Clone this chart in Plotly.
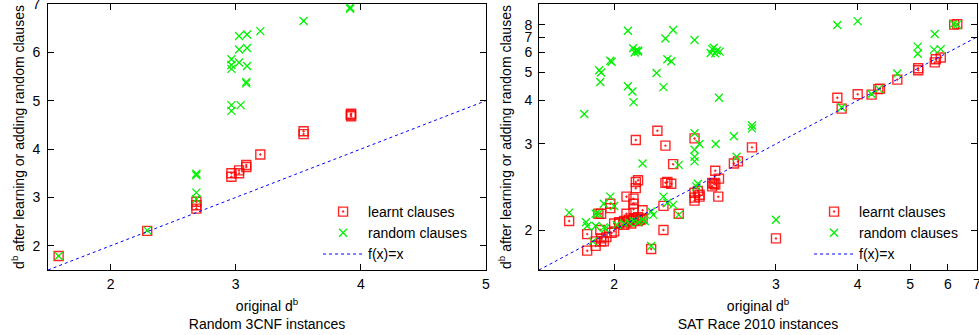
import numpy as np
import plotly.graph_objects as go

# ---------------- data: Random 3CNF instances (left) ----------------
cnf_learnt_x = [1.585, 2.293, 2.686, 2.686, 2.686, 2.966, 2.966, 3.027, 3.027, 3.085, 3.085,
                3.197, 3.543, 3.543, 3.923, 3.923, 3.920]
cnf_learnt_y = [1.79, 2.31, 2.91, 2.84, 2.77, 3.50, 3.43, 3.56, 3.50, 3.67, 3.63,
                3.89, 4.31, 4.37, 4.68, 4.73, 4.71]
cnf_random_x = [1.585, 2.293, 2.686, 2.686, 2.686, 2.686, 2.966, 2.966, 3.040, 2.966, 2.966,
                2.966, 3.027, 3.091, 3.085, 3.085, 3.027, 3.091, 3.027, 3.091, 3.197, 3.543,
                3.915, 3.915]
cnf_random_y = [1.79, 2.32, 3.46, 3.49, 3.10, 2.97, 4.79, 4.91, 4.91, 5.66, 5.74,
                5.86, 5.79, 5.72, 5.36, 5.39, 6.06, 6.09, 6.34, 6.37, 6.44, 6.65,
                6.90, 6.93]

# ---------------- data: SAT Race 2010 instances (right) ----------------
sat_learnt_x = [2.09, 2.19, 2.23, 2.39, 2.27, 2.52, 2.65, 2.68, 2.79, 3.70, 3.76, 4.00, 4.23,
                4.35, 4.38, 4.72, 5.19, 5.19, 5.62, 5.65, 5.79, 6.20, 6.30,
                2.545, 2.50, 2.52, 2.50, 2.51, 2.54, 2.39, 2.39, 2.39, 2.41, 2.42, 2.42,
                2.23, 2.26, 2.24, 2.22, 2.30, 2.22, 2.16, 2.12, 2.10, 2.09, 2.09, 2.05,
                2.08, 2.08, 2.08,
                2.00, 2.02, 2.04, 2.05, 2.06, 2.07, 2.08, 2.09, 2.10, 2.11, 2.12, 2.04,
                2.02, 2.07, 2.10,
                2.05, 1.985, 1.985, 1.94, 1.95, 1.947, 1.99, 2.00, 1.97, 1.95, 1.93,
                1.95, 1.96, 1.93, 1.90, 1.90, 1.84, 3.00]
sat_learnt_y = [3.07, 3.25, 2.97, 3.10, 2.68, 2.59, 2.69, 2.72, 2.94, 4.08, 3.77, 4.19, 4.18,
                4.36, 4.38, 4.71, 5.19, 5.10, 5.47, 5.63, 5.72, 8.00, 8.05,
                2.49, 2.44, 2.42, 2.40, 2.43, 2.29, 2.33, 2.28, 2.25, 2.35, 2.31, 2.29,
                2.44, 2.43, 2.45, 2.20, 2.13, 2.00, 1.87, 2.16, 2.47, 2.45, 2.38, 2.29,
                2.27, 2.22, 2.17,
                2.05, 2.06, 2.07, 2.06, 2.08, 2.07, 2.09, 2.08, 2.10, 2.08, 2.09, 2.04,
                2.05, 2.05, 2.07,
                2.13, 2.22, 2.18, 2.13, 2.13, 2.00, 1.98, 1.99, 1.95, 1.94, 1.92,
                1.92, 1.92, 1.89, 1.97, 1.86, 2.07, 1.94]
sat_random_x = [1.89, 2.056, 2.27, 2.23, 2.39, 2.078, 2.09, 2.10, 2.085, 2.10, 1.985, 1.99,
                1.943, 1.95, 1.947, 2.056, 2.075, 2.08, 2.186, 2.22, 2.24, 2.26, 2.50, 2.53,
                2.52, 2.49, 2.55, 2.51, 2.545, 2.39, 2.42, 2.523, 2.65, 2.79, 2.79, 3.70,
                4.00, 5.18, 5.18, 5.62, 5.60, 5.79, 4.72, 4.23, 4.36, 3.76, 6.18, 6.29,
                2.39, 2.39, 2.39, 2.12, 2.30, 2.67, 2.40, 2.41, 2.22, 2.24, 2.27, 2.16,
                2.17, 2.30, 1.985, 1.96, 2.00, 1.93, 1.94, 1.96, 1.965, 1.84, 1.896, 1.90,
                1.93, 1.92, 2.01, 2.04, 2.06, 2.08, 2.10, 2.12, 2.13, 2.16, 3.00]
sat_random_y = [3.63, 7.48, 7.55, 6.90, 6.79, 6.25, 6.10, 6.05, 6.00, 6.12, 5.55, 5.50,
                5.10, 5.00, 4.62, 4.46, 4.28, 3.95, 4.98, 4.43, 5.63, 5.53, 6.20, 6.10,
                5.95, 5.97, 6.05, 6.28, 4.08, 3.20, 3.00, 3.00, 3.14, 3.30, 3.36, 7.97,
                8.32, 6.35, 5.93, 7.23, 6.17, 6.20, 4.96, 4.20, 4.37, 3.80, 8.05, 8.00,
                2.90, 2.79, 2.72, 2.69, 2.67, 2.79, 2.40, 2.43, 2.29, 2.23, 2.21, 2.15,
                2.12, 2.12, 2.29, 2.22, 2.20, 2.13, 2.13, 2.02, 2.01, 2.14, 2.06, 2.03,
                2.03, 1.92, 2.04, 2.05, 2.06, 2.07, 2.06, 2.08, 2.07, 1.89, 2.08]

cnf_x_ticks = [2, 3, 4, 5]
cnf_y_ticks = [2, 3, 4, 5, 6, 7]
sat_x_ticks = [2, 3, 4, 5, 6, 7]
sat_y_ticks = [2, 3, 4, 5, 6, 7, 8]
cnf_range_x = [1.5, 5.0]
cnf_range_y = [1.5, 7.0]
sat_range_x = [1.75, 7.0]
sat_range_y = [1.75, 10.2]

series_names = ["learnt clauses", "random clauses", "f(x)=x"]
titles_x = ["original d<sup>b</sup><br>Random 3CNF instances",
            "original d<sup>b</sup><br>SAT Race 2010 instances"]
title_y = "d<sup>b</sup> after learning or adding random clauses"


def ll(v):
    """double-log axis transform used by the SAT Race panel"""
    return np.log(np.log(np.asarray(v, dtype=float)))


def padded(r, eps):
    return [r[0], r[1] + eps]


FONT = "Liberation Sans, Arial, Helvetica, sans-serif"
RED = "#ff0000"
GREEN = "#00f000"
BLUE = "#0000ff"

fig = go.Figure()

# left panel
fig.add_trace(go.Scatter(x=cnf_learnt_x, y=cnf_learnt_y, mode="markers", name=series_names[0],
                         marker=dict(symbol="square-open-dot", size=9, color=RED, opacity=0.85,
                                     line=dict(width=1.4, color=RED)),
                         xaxis="x", yaxis="y", legend="legend"))
fig.add_trace(go.Scatter(x=cnf_random_x, y=cnf_random_y, mode="markers", name=series_names[1],
                         marker=dict(symbol="x-thin-open", size=8, color=GREEN,
                                     line=dict(width=1.3, color=GREEN)),
                         xaxis="x", yaxis="y", legend="legend"))
fig.add_trace(go.Scatter(x=cnf_range_x, y=cnf_range_x, mode="lines", name=series_names[2],
                         line=dict(color=BLUE, dash="dot", width=1),
                         xaxis="x", yaxis="y", legend="legend"))

# right panel (double-log scale)
fig.add_trace(go.Scatter(x=ll(sat_learnt_x), y=ll(sat_learnt_y), mode="markers", name=series_names[0],
                         marker=dict(symbol="square-open-dot", size=9, color=RED, opacity=0.85,
                                     line=dict(width=1.4, color=RED)),
                         xaxis="x2", yaxis="y2", legend="legend2"))
fig.add_trace(go.Scatter(x=ll(sat_random_x), y=ll(sat_random_y), mode="markers", name=series_names[1],
                         marker=dict(symbol="x-thin-open", size=8, color=GREEN,
                                     line=dict(width=1.3, color=GREEN)),
                         xaxis="x2", yaxis="y2", legend="legend2"))
fig.add_trace(go.Scatter(x=ll(sat_range_x), y=ll(sat_range_x), mode="lines", name=series_names[2],
                         line=dict(color=BLUE, dash="dot", width=1),
                         xaxis="x2", yaxis="y2", legend="legend2"))

axis_common = dict(showline=True, linecolor="black", linewidth=1, mirror="ticks",
                   ticks="inside", ticklen=6, tickcolor="black", tickwidth=1,
                   showgrid=False, zeroline=False, automargin=False,
                   ticklabeloverflow="allow",
                   tickfont=dict(family=FONT, size=14, color="black"))

W, H = 979, 335
ML, MR, MT, MB = 48, 2, 4, 65
pw = W - ML - MR
d1 = [0, (486 - ML) / pw]
d2 = [(539 - ML) / pw, 1]

fig.update_layout(
    width=W, height=H, margin=dict(l=ML, r=MR, t=MT, b=MB),
    paper_bgcolor="white", plot_bgcolor="white",
    font=dict(family=FONT, size=14, color="black"),
    xaxis=dict(domain=d1, range=padded(cnf_range_x, 0.001), tickvals=cnf_x_ticks, anchor="y",
               ticklabelstandoff=1,
               title=dict(text=titles_x[0], standoff=10, font=dict(size=14)), **axis_common),
    yaxis=dict(domain=[0, 1], range=padded(cnf_range_y, 0.001), tickvals=cnf_y_ticks, anchor="x",
               ticklabelstandoff=4,
               title=dict(text=title_y, standoff=4, font=dict(size=14)), **axis_common),
    xaxis2=dict(domain=d2, range=padded(list(ll(sat_range_x)), 0.0005),
                tickvals=list(ll(sat_x_ticks)),
                ticktext=[str(t) for t in sat_x_ticks], anchor="y2", ticklabelstandoff=1,
                title=dict(text=titles_x[1], standoff=10, font=dict(size=14)), **axis_common),
    yaxis2=dict(domain=[0, 1], range=list(ll(sat_range_y)), tickvals=list(ll(sat_y_ticks)),
                ticktext=[str(t) for t in sat_y_ticks], anchor="x2", ticklabelstandoff=3,
                title=dict(text=title_y, standoff=9, font=dict(size=14)), **axis_common),
    legend=dict(x=d1[1] - 0.015, y=0.0, xanchor="right", yanchor="bottom",
                bgcolor="rgba(0,0,0,0)", font=dict(size=14), itemwidth=40,
                tracegroupgap=0),
    legend2=dict(x=0.985, y=0.0, xanchor="right", yanchor="bottom",
                 bgcolor="rgba(0,0,0,0)", font=dict(size=14), itemwidth=40,
                 tracegroupgap=0),
    showlegend=True,
)

fig.write_html("out.html", config={"displayModeBar": False},
               post_script="document.body.style.margin='0px';document.body.style.padding='0px';")
